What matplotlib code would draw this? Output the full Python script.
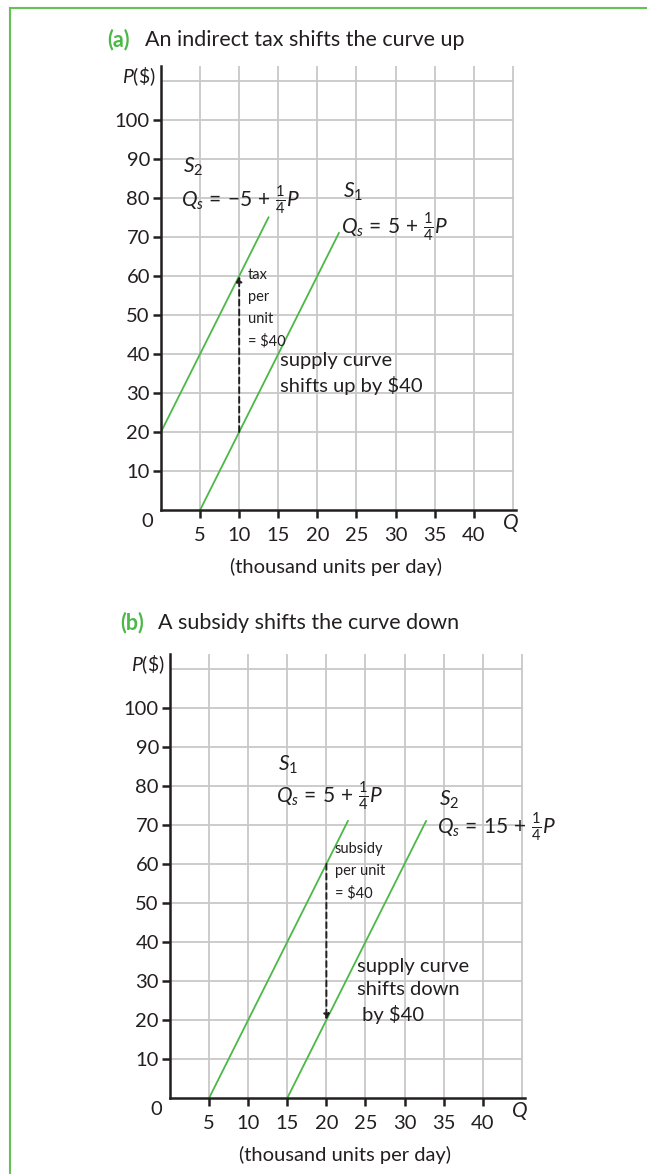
import matplotlib.pyplot as plt
from matplotlib.lines import Line2D

plt.rcParams['font.family'] = ['Lato', 'DejaVu Sans']
plt.rcParams['mathtext.fontset'] = 'custom'
plt.rcParams['mathtext.rm'] = 'Lato'
plt.rcParams['mathtext.it'] = 'Lato:italic'
plt.rcParams['mathtext.bf'] = 'Lato:bold'

GREEN = '#4cb848'
BORDER = '#66c056'
GRID = '#c8c8c8'
TEXT = '#231f20'

# panel (a): indirect tax
a_s1_q = [5, 22.75]
a_s1_p = [0, 71]
a_s2_q = [0, 13.75]
a_s2_p = [20, 75]
a_arrow_q = 10
a_arrow_p = [20, 60]

# panel (b): subsidy
b_s1_q = [5, 22.75]
b_s1_p = [0, 71]
b_s2_q = [15, 32.75]
b_s2_p = [0, 71]
b_arrow_q = 20
b_arrow_p = [60, 20]

x_ticks = [5, 10, 15, 20, 25, 30, 35, 40]
y_ticks = [10, 20, 30, 40, 50, 60, 70, 80, 90, 100]
x_grid = [5, 10, 15, 20, 25, 30, 35, 40, 45]
y_grid = [10, 20, 30, 40, 50, 60, 70, 80, 90, 100, 110]

W, H = 647, 1174
fig = plt.figure(figsize=(W / 100, H / 100), dpi=100)


def setup_axes(rect):
    ax = fig.add_axes(rect)
    ax.set_xlim(0, 45.4)
    ax.set_ylim(0, 113.8)
    for x in x_grid:
        ax.axvline(x, color=GRID, lw=1.3, zorder=0)
    for y in y_grid:
        ax.plot([0, 45], [y, y], color=GRID, lw=1.3, zorder=0)
    ax.spines['top'].set_visible(False)
    ax.spines['right'].set_visible(False)
    for s in ['left', 'bottom']:
        ax.spines[s].set_linewidth(1.8)
        ax.spines[s].set_color(TEXT)
    ax.set_xticks(x_ticks)
    ax.set_yticks(y_ticks)
    ax.tick_params(axis='both', direction='out', length=6, width=1.8,
                   color=TEXT, labelcolor=TEXT, labelsize=14.5)
    ax.tick_params(axis='x', pad=6)
    ax.tick_params(axis='y', pad=2)
    ax.text(-1.8, -3, '0', ha='center', va='center', fontsize=14.5, color=TEXT)
    ax.text(44.7, -3.3, 'Q', ha='center', va='center', fontsize=15,
            color=TEXT, style='italic')
    ax.text(-0.6, 111, r'$P$(\$)', ha='right', va='center', fontsize=14,
            color=TEXT)
    ax.text(22.4, -14.5, '(thousand units per day)', ha='center', va='center',
            fontsize=14.5, color=TEXT)
    return ax


def title(x, y, tag, txt):
    fig.text(x / W, 1 - y / H, tag, color=GREEN, fontsize=15.5,
             fontweight='bold', ha='left', va='center')
    fig.text((x + 38) / W, 1 - y / H, txt, color=TEXT, fontsize=15.5,
             ha='left', va='center')


def dashed_arrow(ax, q, p):
    ax.annotate('', xy=(q, p[1]), xytext=(q, p[0]),
                arrowprops=dict(arrowstyle='-|>', color=TEXT, lw=1.4,
                                linestyle=(0, (3, 2)), mutation_scale=8,
                                shrinkA=0, shrinkB=0))


# ---- (a)
title(107, 40, '(a)', 'An indirect tax shifts the curve up')
ax1 = setup_axes([161 / W, 1 - 510 / H, 355 / W, 444 / H])
ax1.plot(a_s1_q, a_s1_p, color=GREEN, lw=1.3)
ax1.plot(a_s2_q, a_s2_p, color=GREEN, lw=1.3)
dashed_arrow(ax1, a_arrow_q, a_arrow_p)
ax1.text(2.8, 88, r'$S_2$', fontsize=15, color=TEXT, va='center')
ax1.text(2.6, 79.5, r'$Q_s\,=\,{-}5\,+\,\frac{1}{4}P$', fontsize=15,
         color=TEXT, va='center')
ax1.text(23.3, 81.5, r'$S_1$', fontsize=15, color=TEXT, va='center')
ax1.text(23.0, 72.5, r'$Q_s\,=\,5\,+\,\frac{1}{4}P$', fontsize=15, color=TEXT,
         va='center')
ax1.text(11.1, 62, 'tax\nper\nunit\n= $40', fontsize=10.5, color=TEXT,
         va='top', ha='left', linespacing=1.7)
ax1.text(15.2, 40.5, 'supply curve\nshifts up by $40', fontsize=14.5,
         color=TEXT, va='top', ha='left', linespacing=1.45)

# ---- (b)
title(120, 623, '(b)', 'A subsidy shifts the curve down')
ax2 = setup_axes([170 / W, 1 - 1098 / H, 355 / W, 444 / H])
ax2.plot(b_s1_q, b_s1_p, color=GREEN, lw=1.3)
ax2.plot(b_s2_q, b_s2_p, color=GREEN, lw=1.3)
dashed_arrow(ax2, b_arrow_q, b_arrow_p)
ax2.text(13.8, 85.5, r'$S_1$', fontsize=15, color=TEXT, va='center')
ax2.text(13.6, 77.5, r'$Q_s\,=\,5\,+\,\frac{1}{4}P$', fontsize=15, color=TEXT,
         va='center')
ax2.text(34.4, 76.5, r'$S_2$', fontsize=15, color=TEXT, va='center')
ax2.text(34.2, 69.5, r'$Q_s\,=\,15\,+\,\frac{1}{4}P$', fontsize=15, color=TEXT,
         va='center')
ax2.text(21.1, 65.5, 'subsidy\nper unit\n= $40', fontsize=10.5, color=TEXT,
         va='top', ha='left', linespacing=1.7)
ax2.text(23.9, 36, 'supply curve\nshifts down\n by $40', fontsize=14.5,
         color=TEXT, va='top', ha='left', linespacing=1.45)

# green frame
fig.add_artist(Line2D([10 / W, 1], [1 - 8 / H, 1 - 8 / H], color=BORDER,
                      lw=1.5, transform=fig.transFigure))
fig.add_artist(Line2D([10 / W, 10 / W], [0, 1 - 8 / H], color=BORDER,
                      lw=1.5, transform=fig.transFigure))

fig.savefig('out.png', dpi=100, facecolor='white')
